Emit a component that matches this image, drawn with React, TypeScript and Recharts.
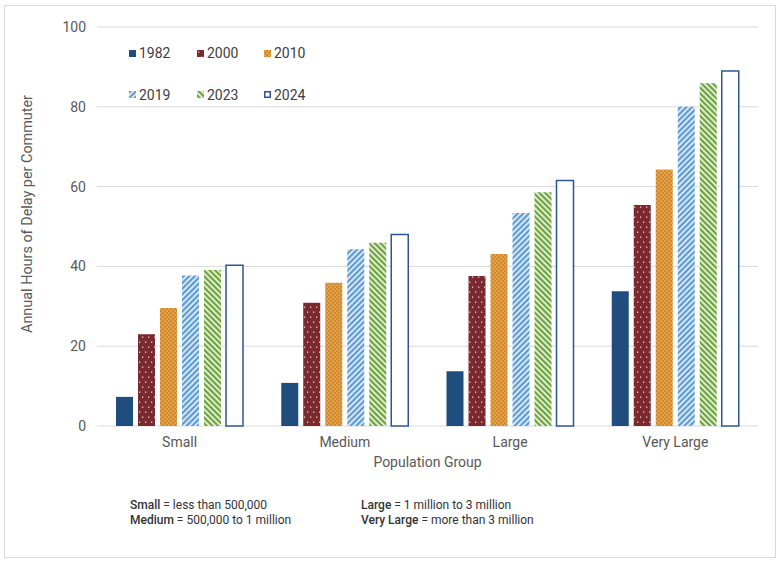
import { BarChart, Bar, XAxis, YAxis, CartesianGrid } from "recharts";

// population groups and annual delay hours per commuter, by year
const groups = ["Small", "Medium", "Large", "Very Large"];
const years = ["1982", "2000", "2010", "2019", "2023", "2024"];
const h1982 = [7.3, 10.8, 13.7, 33.8];
const h2000 = [23.0, 30.9, 37.6, 55.4];
const h2010 = [29.6, 35.9, 43.1, 64.3];
const h2019 = [37.7, 44.3, 53.4, 80.0];
const h2023 = [39.1, 45.9, 58.6, 85.9];
const h2024 = [40.3, 48.0, 61.5, 89.0];
const yTicks = [0, 20, 40, 60, 80, 100];

const seriesValues = [h1982, h2000, h2010, h2019, h2023, h2024];

const data = groups.map((g, i) => {
  const row: Record<string, string | number> = { group: g };
  years.forEach((y, k) => {
    row[y] = seriesValues[k][i];
  });
  return row;
});

const fills: Record<string, string> = {
  "1982": "#1F4E7E",
  "2000": "url(#p2000)",
  "2010": "url(#p2010)",
  "2019": "url(#p2019)",
  "2023": "url(#p2023)",
  "2024": "#ffffff",
};

const font = "Roboto, 'Noto Sans', sans-serif";

function Patterns() {
  return (
    <defs>
      <pattern id="p2000" width="6" height="10" patternUnits="userSpaceOnUse">
        <rect width="6" height="10" fill="#7A2A2E" />
        <rect x="1" y="1.5" width="1.3" height="1.3" fill="#e9c9c9" />
        <rect x="4" y="6.5" width="1.3" height="1.3" fill="#e9c9c9" />
      </pattern>
      <pattern id="p2010" width="4" height="4" patternUnits="userSpaceOnUse">
        <rect width="4" height="4" fill="#D48A2A" />
        <rect x="0.5" y="0.5" width="1.1" height="1.1" fill="#f5dcaa" />
        <rect x="2.5" y="2.5" width="1.1" height="1.1" fill="#f5dcaa" />
      </pattern>
      <pattern id="p2019" width="4" height="4" patternUnits="userSpaceOnUse" patternTransform="rotate(45)">
        <rect width="4" height="4" fill="#dce9f6" />
        <rect width="2.1" height="4" fill="#5B9BD5" />
      </pattern>
      <pattern id="p2023" width="4" height="4" patternUnits="userSpaceOnUse" patternTransform="rotate(-45)">
        <rect width="4" height="4" fill="#e3efd8" />
        <rect width="2.1" height="4" fill="#6CA23A" />
      </pattern>
    </defs>
  );
}

function LegendBox() {
  const colX = [129, 197, 264];
  const rowY = [53, 94.5];
  return (
    <>
      {years.map((y, i) => {
        const outline = y === "2024";
        return (
          <div
            key={y}
            style={{
              position: "absolute",
              left: colX[i % 3],
              top: rowY[Math.floor(i / 3)] - 9,
              height: 18,
              display: "flex",
              alignItems: "center",
              fontFamily: font,
              fontSize: 14,
              color: "#404040",
            }}
          >
            <svg width="7" height="7" style={{ marginRight: 3 }}>
              <rect
                x={outline ? 0.75 : 0}
                y={outline ? 0.75 : 0}
                width={outline ? 5.5 : 7}
                height={outline ? 5.5 : 7}
                fill={fills[y]}
                stroke={outline ? "#2F5597" : "none"}
                strokeWidth={outline ? 1.5 : 0}
              />
            </svg>
            {y}
          </div>
        );
      })}
    </>
  );
}

function YLabel() {
  return (
    <text
      transform="translate(27, 214) rotate(-90)"
      textAnchor="middle"
      dominantBaseline="central"
      fontSize={14.4}
      fill="#595959"
      fontFamily={font}
    >
      Annual Hours of Delay per Commuter
    </text>
  );
}

const notes = [
  { x: 130, y: 498, label: "Small", text: " = less than 500,000" },
  { x: 130, y: 513, label: "Medium", text: " = 500,000 to 1 million" },
  { x: 361, y: 498, label: "Large", text: " = 1 million to 3 million" },
  { x: 361, y: 513, label: "Very Large", text: " = more than 3 million" },
];

export default function App() {
  return (
    <div style={{ position: "absolute", left: 0, top: 0, width: 782, height: 564, background: "#fff" }}>
      <div
        style={{
          position: "absolute",
          left: 4,
          top: 5,
          width: 772,
          height: 553,
          border: "1px solid #d9d9d9",
          boxSizing: "border-box",
        }}
      />
      <div style={{ position: "absolute", left: 0, top: 0 }}>
        <BarChart
          width={782}
          height={564}
          data={data}
          margin={{ top: 27, right: 24, left: 0, bottom: 92 }}
          barGap={5}
          barSize={17}
        >
          <Patterns />
          <CartesianGrid vertical={false} stroke="#d9d9d9" />
          <XAxis
            dataKey="group"
            axisLine={false}
            tickLine={false}
            height={46}
            tickMargin={5}
            tick={{ fontSize: 14, fill: "#595959", fontFamily: font }}
            label={{
              value: "Population Group",
              position: "insideBottom",
              offset: 5,
              style: { fontSize: 14, fill: "#595959", fontFamily: font },
            }}
          />
          <YAxis
            width={97}
            domain={[0, 100]}
            ticks={yTicks}
            axisLine={false}
            tickLine={false}
            tickMargin={5}
            tick={{ fontSize: 14, fill: "#595959", fontFamily: font }}
            label={{ content: () => <YLabel /> }}
          />
          {years.map((y) => (
            <Bar
              key={y}
              dataKey={y}
              fill={fills[y]}
              stroke={y === "2024" ? "#2F5597" : undefined}
              strokeWidth={y === "2024" ? 1.5 : 0}
              isAnimationActive={false}
            />
          ))}
        </BarChart>
      </div>
      <LegendBox />
      {notes.map((n) => (
        <div
          key={n.label}
          style={{
            position: "absolute",
            left: n.x,
            top: n.y,
            fontFamily: font,
            fontSize: 12,
            color: "#333333",
            whiteSpace: "nowrap",
            lineHeight: "15px",
          }}
        >
          <span style={{ fontWeight: 500 }}>{n.label}</span>
          {n.text}
        </div>
      ))}
    </div>
  );
}
